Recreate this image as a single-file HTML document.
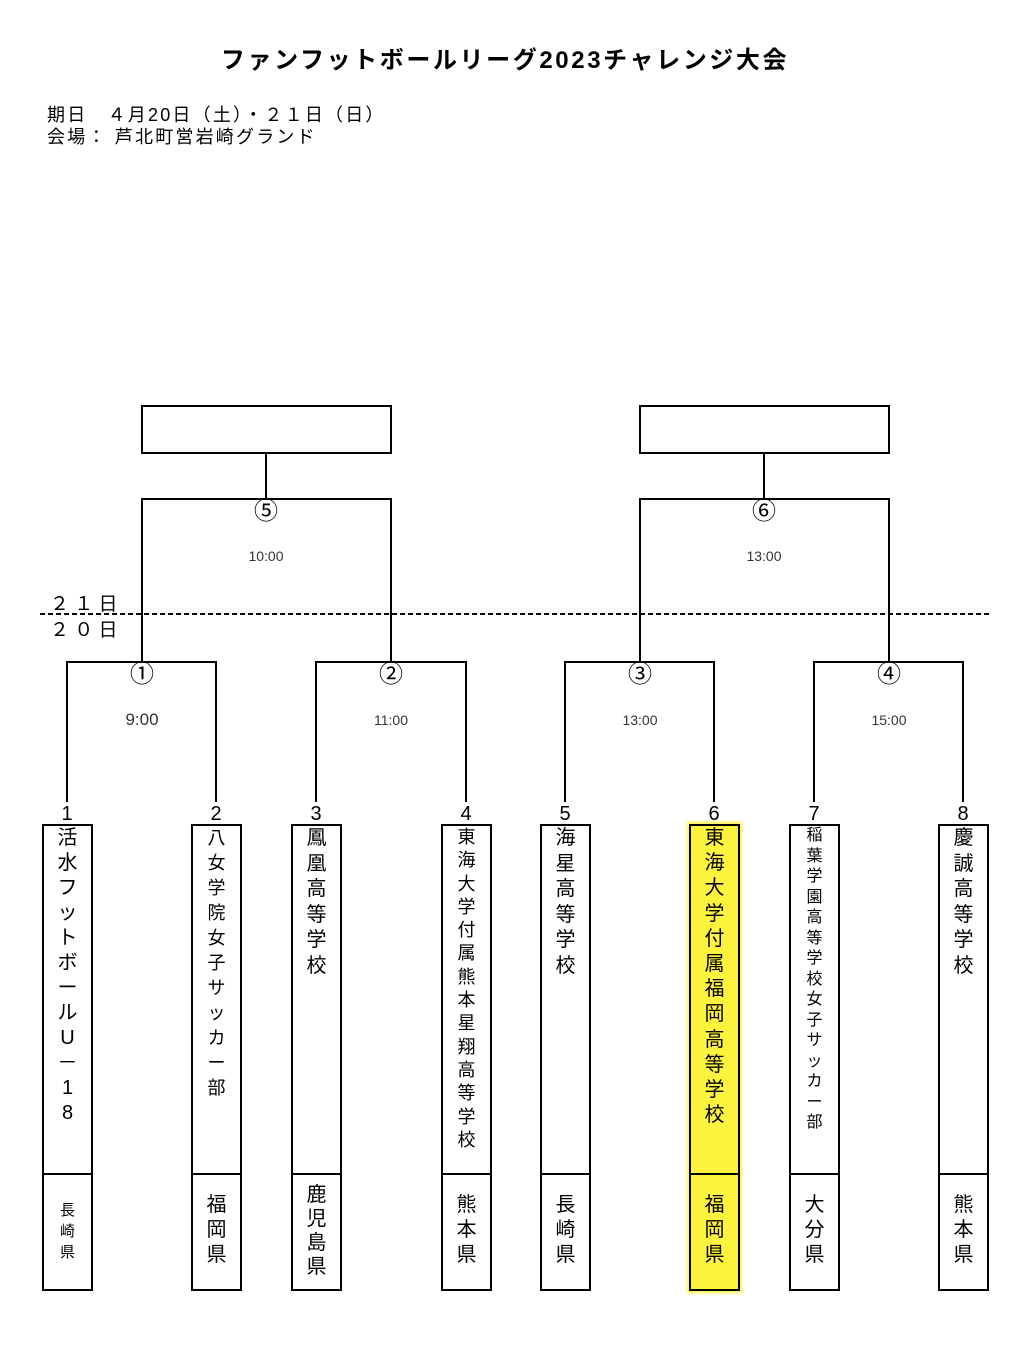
<!DOCTYPE html>
<html><head><meta charset="utf-8"><style>
body{margin:0;width:1032px;height:1345px;background:#fff;position:relative;font-family:"Liberation Sans","Noto Sans CJK JP",sans-serif;color:#000;overflow:hidden}
.a{position:absolute}
.col{position:absolute;display:flex;flex-direction:column;align-items:center;text-align:center}
.col span{display:block}
.box{position:absolute;border:2px solid #000;box-sizing:border-box}
</style></head><body>
<div class="a" style="left:0;width:1010px;top:40px;text-align:center;font-size:24px;font-weight:bold;letter-spacing:2.6px;">ファンフットボールリーグ2023チャレンジ大会</div>
<div class="a" style="left:47px;top:104px;font-size:18px;line-height:22px;letter-spacing:2.2px">期日　４月20日（土）・２１日（日）<br>会場：&nbsp;芦北町営岩崎グランド</div>

<svg class="a" style="left:0;top:0" width="1032" height="1345">
<g fill="none" stroke="#000" stroke-width="2">
<rect x="142" y="406" width="249" height="47"/>
<rect x="640" y="406" width="249" height="47"/>
<path d="M266 453V499M142 662V499H391V662M764 453V499M640 662V499H889V662"/>
<path d="M67 802V662H216V802M316 802V662H466V802M565 802V662H714V802M814 802V662H963V802"/>
<line x1="40" y1="614" x2="990" y2="614" stroke-dasharray="5,3"/>
</g>
<g font-size="14" fill="#333" text-anchor="middle" font-family="Liberation Sans">
<text x="266" y="561">10:00</text><text x="764" y="561">13:00</text>
<text x="142" y="725" font-size="17">9:00</text><text x="391" y="725">11:00</text><text x="640" y="725">13:00</text><text x="889" y="725">15:00</text>
</g>
<g font-size="24" text-anchor="middle" font-family="Liberation Sans,Noto Sans CJK JP,sans-serif">
<text x="266" y="519">⑤</text><text x="764" y="519">⑥</text>
<text x="142" y="682">①</text><text x="391" y="682">②</text><text x="640" y="682">③</text><text x="889" y="682">④</text>
</g>
<g font-size="19" font-family="Liberation Sans,Noto Sans CJK JP,sans-serif">
<text x="50" y="610">２ １ 日</text><text x="50" y="636">２ ０ 日</text>
</g>
<g font-size="20" text-anchor="middle" font-family="Liberation Sans">
<text x="67" y="820">1</text><text x="216" y="820">2</text><text x="316" y="820">3</text><text x="466" y="820">4</text><text x="565" y="820">5</text><text x="714" y="820">6</text><text x="814" y="820">7</text><text x="963" y="820">8</text>
</g>
</svg>

<div class="box" style="left:689px;top:824px;width:51px;height:467px;background:#fdf33f;box-shadow:0 0 3px 2px #fdf33f"></div>
<div class="box" style="left:42px;top:824px;width:51px;height:467px"></div>
<div class="box" style="left:191px;top:824px;width:51px;height:467px"></div>
<div class="box" style="left:291px;top:824px;width:51px;height:467px"></div>
<div class="box" style="left:441px;top:824px;width:51px;height:467px"></div>
<div class="box" style="left:540px;top:824px;width:51px;height:467px"></div>
<div class="box" style="left:789px;top:824px;width:51px;height:467px"></div>
<div class="box" style="left:938px;top:824px;width:51px;height:467px"></div>
<svg class="a" style="left:0;top:0" width="1032" height="1345"><g stroke="#000" stroke-width="2">
<path d="M42 1174H93M191 1174H242M291 1174H342M441 1174H492M540 1174H591M689 1174H740M789 1174H840M938 1174H989"/></g></svg>

<div class="col" style="left:42px;width:51px;top:826px;font-size:20px;line-height:25px"><span>活</span><span>水</span><span>フ</span><span>ッ</span><span>ト</span><span>ボ</span><span>ー</span><span>ル</span><span>U</span><span>－</span><span>1</span><span>8</span></div>
<div class="col" style="left:191px;width:51px;top:826px;font-size:18px;line-height:25px"><span>八</span><span>女</span><span>学</span><span>院</span><span>女</span><span>子</span><span>サ</span><span>ッ</span><span>カ</span><span>ー</span><span>部</span></div>
<div class="col" style="left:291px;width:51px;top:826px;font-size:20px;line-height:25.5px"><span>鳳</span><span>凰</span><span>高</span><span>等</span><span>学</span><span>校</span></div>
<div class="col" style="left:441px;width:51px;top:826px;font-size:18px;line-height:23.3px"><span>東</span><span>海</span><span>大</span><span>学</span><span>付</span><span>属</span><span>熊</span><span>本</span><span>星</span><span>翔</span><span>高</span><span>等</span><span>学</span><span>校</span></div>
<div class="col" style="left:540px;width:51px;top:826px;font-size:20px;line-height:25.5px"><span>海</span><span>星</span><span>高</span><span>等</span><span>学</span><span>校</span></div>
<div class="col" style="left:689px;width:51px;top:826px;font-size:20px;line-height:25.2px"><span>東</span><span>海</span><span>大</span><span>学</span><span>付</span><span>属</span><span>福</span><span>岡</span><span>高</span><span>等</span><span>学</span><span>校</span></div>
<div class="col" style="left:789px;width:51px;top:826px;font-size:16px;line-height:20.5px"><span>稲</span><span>葉</span><span>学</span><span>園</span><span>高</span><span>等</span><span>学</span><span>校</span><span>女</span><span>子</span><span>サ</span><span>ッ</span><span>カ</span><span>ー</span><span>部</span></div>
<div class="col" style="left:938px;width:51px;top:826px;font-size:20px;line-height:25.5px"><span>慶</span><span>誠</span><span>高</span><span>等</span><span>学</span><span>校</span></div>

<div class="col" style="left:42px;width:51px;top:1200px;font-size:15px;line-height:21px"><span>長</span><span>崎</span><span>県</span></div>
<div class="col" style="left:191px;width:51px;top:1193px;font-size:20px;line-height:25px"><span>福</span><span>岡</span><span>県</span></div>
<div class="col" style="left:291px;width:51px;top:1183px;font-size:20px;line-height:24px"><span>鹿</span><span>児</span><span>島</span><span>県</span></div>
<div class="col" style="left:441px;width:51px;top:1193px;font-size:20px;line-height:25px"><span>熊</span><span>本</span><span>県</span></div>
<div class="col" style="left:540px;width:51px;top:1193px;font-size:20px;line-height:25px"><span>長</span><span>崎</span><span>県</span></div>
<div class="col" style="left:689px;width:51px;top:1193px;font-size:20px;line-height:25px"><span>福</span><span>岡</span><span>県</span></div>
<div class="col" style="left:789px;width:51px;top:1193px;font-size:20px;line-height:25px"><span>大</span><span>分</span><span>県</span></div>
<div class="col" style="left:938px;width:51px;top:1193px;font-size:20px;line-height:25px"><span>熊</span><span>本</span><span>県</span></div>
</body></html>
